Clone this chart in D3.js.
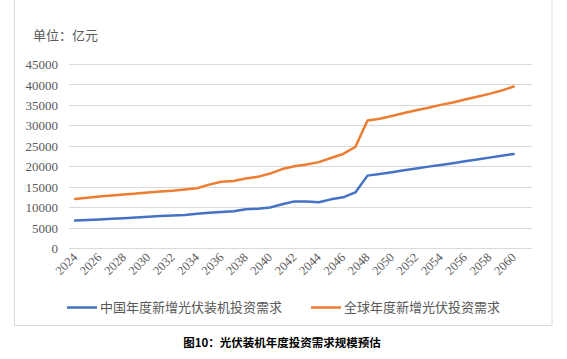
<!DOCTYPE html>
<html><head><meta charset="utf-8">
<script src="https://cdn.jsdelivr.net/npm/d3@7"></script>
<style>body{margin:0;background:#fff;}svg{display:block;}</style>
</head><body>
<script>
const years = d3.range(2024, 2062).map(String); // 2061 category left empty, like the source axis
const chinaValues = [6700,6850,7000,7150,7300,7450,7650,7800,7950,8100,8350,8600,8800,9000,9500,9600,9900,10700,11400,11350,11200,11900,12400,13600,17700,18100,18550,19000,19450,19900,20300,20750,21200,21650,22100,22550,23000];
const globalValues = [12000,12300,12600,12850,13100,13300,13600,13800,14000,14300,14600,15500,16200,16400,17000,17400,18200,19300,20000,20400,21000,22000,23000,24700,31200,31600,32300,33000,33700,34300,35000,35600,36300,37000,37700,38500,39500];
const yTicks = [0,5000,10000,15000,20000,25000,30000,35000,40000,45000];
const seriesNames = ["中国年度新增光伏装机投资需求","全球年度新增光伏投资需求"];
const unitLabel = "单位：亿元";
const caption = "图10：光伏装机年度投资需求规模预估";

const W = 567, H = 359;
const svg = d3.select("body").append("svg").attr("width", W).attr("height", H);
const cjk = "'Noto Sans CJK SC', sans-serif";
const serif = "'Liberation Serif', 'Times New Roman', serif";
const textCol = "#595959";

// frame
svg.append("rect").attr("x", 14.5).attr("y", -2).attr("width", 537.5).attr("height", 327.5)
  .attr("fill", "none").attr("stroke", "#d9d9d9").attr("stroke-width", 1);

const x = d3.scaleBand().domain(years).range([69, 532]);
const y = d3.scaleLinear().domain([0, 45000]).range([248, 64]);
const cx = d => x(d) + x.bandwidth() / 2;

// grid
svg.append("g").selectAll("line").data(yTicks).join("line")
  .attr("x1", 69).attr("x2", 532)
  .attr("y1", d => Math.round(y(d)) + 0.5).attr("y2", d => Math.round(y(d)) + 0.5)
  .attr("stroke", "#d9d9d9").attr("stroke-width", 1);

// y axis labels
const yAxis = d3.axisLeft(y).tickValues(yTicks).tickSize(0).tickPadding(0).tickFormat(d3.format("d"));
const gy = svg.append("g").attr("transform", "translate(58,0)").call(yAxis);
gy.select(".domain").remove();
gy.selectAll("text").attr("font-family", serif).attr("font-size", 13).attr("fill", textCol).attr("dy", "0.35em");

// x axis labels
const xAxis = d3.axisBottom(x).tickValues(years.filter((d, i) => i % 2 === 0 && +d <= 2060)).tickSize(0).tickPadding(0);
const gx = svg.append("g").attr("transform", "translate(0,248)").call(xAxis);
gx.select(".domain").remove();
gx.selectAll("text").attr("font-family", serif).attr("font-size", 12.5).attr("fill", textCol)
  .attr("text-anchor", "end").attr("dy", null).attr("y", 0)
  .attr("transform", "translate(3,10) rotate(-45)");

// lines
const line = d3.line().x((d, i) => cx(years[i])).y(d => y(d));
svg.append("path").datum(chinaValues).attr("d", line).attr("fill", "none")
  .attr("stroke", "#4472C4").attr("stroke-width", 2.5).attr("stroke-linejoin", "round").attr("stroke-linecap", "round");
svg.append("path").datum(globalValues).attr("d", line).attr("fill", "none")
  .attr("stroke", "#ED7D31").attr("stroke-width", 2.5).attr("stroke-linejoin", "round").attr("stroke-linecap", "round");

// unit label
svg.append("text").attr("x", 33).attr("y", 35).attr("dy", "0.35em").text(unitLabel)
  .attr("font-family", cjk).attr("font-size", 13).attr("fill", textCol);

// legend
const legend = [{x: 67, color: "#4472C4", name: seriesNames[0]}, {x: 311, color: "#ED7D31", name: seriesNames[1]}];
legend.forEach(l => {
  svg.append("line").attr("x1", l.x).attr("x2", l.x + 30).attr("y1", 307.5).attr("y2", 307.5)
    .attr("stroke", l.color).attr("stroke-width", 2.5);
  svg.append("text").attr("x", l.x + 33).attr("y", 307.5).attr("dy", "0.35em").text(l.name)
    .attr("font-family", cjk).attr("font-size", 13).attr("fill", textCol);
});

// caption
svg.append("text").attr("x", 282).attr("y", 342.5).attr("dy", "0.35em").attr("text-anchor", "middle").text(caption)
  .attr("font-family", cjk).attr("font-size", 11.5).attr("font-weight", "bold").attr("fill", "#000");
</script>
</body></html>
